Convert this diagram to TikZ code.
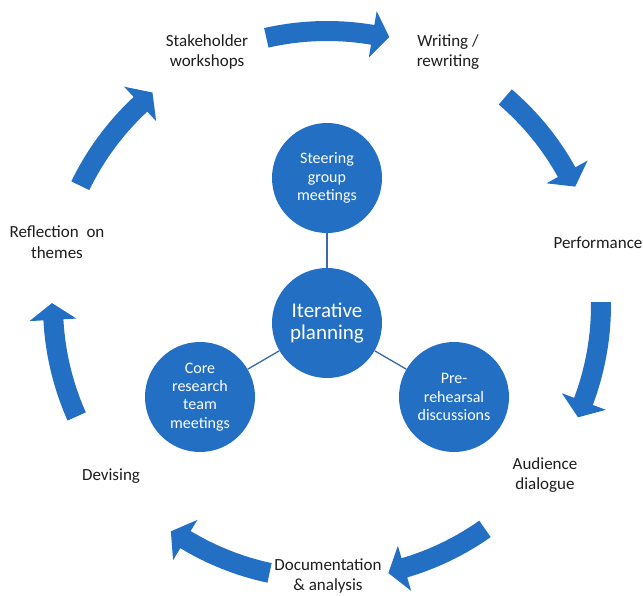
\documentclass[tikz,border=0pt]{standalone}
\usepackage{fontspec}
\setmainfont{Carlito}
\definecolor{cycblue}{RGB}{34,111,196}
\definecolor{linkblue}{RGB}{58,105,165}
\definecolor{txt}{RGB}{30,30,30}
\tikzset{
  lbl/.style={align=center, text=txt, inner sep=0pt, font=\fontsize{17}{20.5}\selectfont},
  bub/.style={circle, fill=cycblue, text=white, align=center, minimum size=110pt, inner sep=0pt, font=\fontsize{16}{18.3}\selectfont},
  link/.style={draw=linkblue, line width=1.3pt}
}
\newcommand\ringarrow[2]{%
  \pgfmathsetmacro\hbase{#2+3.5}%
  \fill[cycblue] (#1:284pt) arc[start angle=#1, end angle=\hbase, radius=284pt]
    -- (\hbase:298pt) -- (#2:275pt) -- (\hbase:251pt) -- (\hbase:264pt)
    arc[start angle=\hbase, end angle=#1, radius=264pt] -- cycle;}
\begin{document}
\begin{tikzpicture}[x=1pt,y=1pt]
\useasboundingbox (0,0) rectangle (643,-596);
\fill[white] (0,0) rectangle (643,-596);
% ring of curved arrows
\begin{scope}[shift={(327,-305)}]
  \ringarrow{102.8}{76.9}
  \ringarrow{49.4}{25.5}
  \ringarrow{0.6}{-24.1}
  \ringarrow{-54.8}{-77.1}
  \ringarrow{-102.1}{-124.6}
  \ringarrow{-156}{-180.4}
  \ringarrow{154.2}{129.4}
\end{scope}
% stage labels
\node[lbl] (stake) at (207,-52) {Stakeholder\\workshops};
\node[lbl] (write) at (448,-52) {Writing /\\rewriting};
\node[lbl] (perf) at (598,-243) {Performance};
\node[lbl] (aud) at (545,-475) {Audience\\dialogue};
\node[lbl] (doc) at (328,-576) {Documentation\\\&\ analysis};
\node[lbl] (dev) at (111,-476) {Devising};
\node[lbl] (refl) at (57,-242) {Reflection\ \ on\\themes};
% central cluster
\node[bub, font=\fontsize{21}{22.5}\selectfont] (plan) at (327,-323) {Iterative\\planning};
\node[bub] (steer) at (327,-178) {Steering\\group\\meetings};
\node[bub] (core) at (200,-397) {Core\\research\\team\\meetings};
\node[bub] (pre) at (454,-397) {Pre-\\rehearsal\\discussions};
\draw[link] (plan) -- (steer);
\draw[link] (plan) -- (core);
\draw[link] (plan) -- (pre);
\end{tikzpicture}
\end{document}
